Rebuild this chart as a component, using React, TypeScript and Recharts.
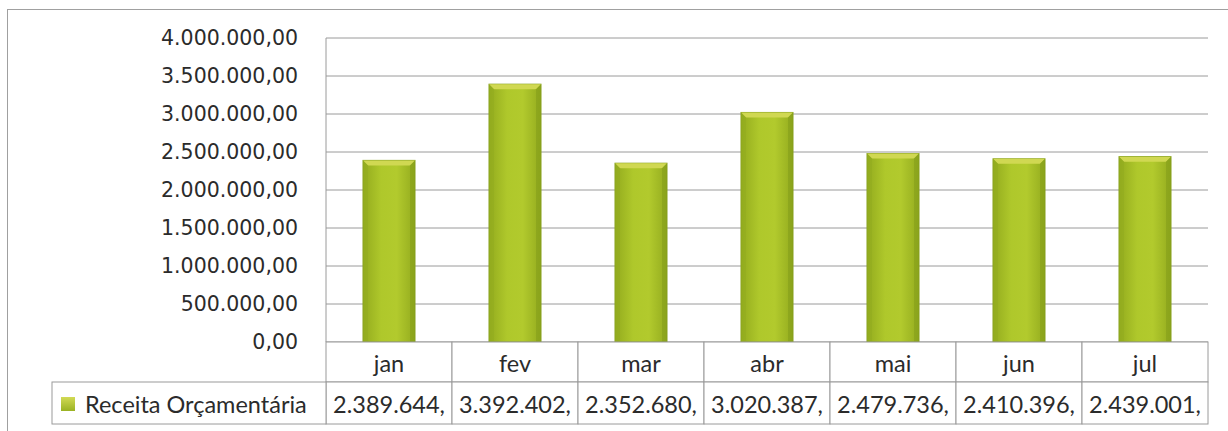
import React from "react";
import { BarChart, Bar, CartesianGrid, XAxis, YAxis } from "recharts";

const months = ["jan", "fev", "mar", "abr", "mai", "jun", "jul"];
const receita = [2389644, 3392402, 2352680, 3020387, 2479736, 2410396, 2439001];
const yTicks = [0, 500000, 1000000, 1500000, 2000000, 2500000, 3000000, 3500000, 4000000];
const seriesName = "Receita Orçamentária";

const rows = months.map((m, i) => ({ month: m, receita: receita[i] }));

const W = 1228;
const H = 431;
const PLOT_LEFT = 326;
const PLOT_RIGHT = 1208;
const PLOT_TOP = 38;
const PLOT_BOTTOM = 342;
const CELL_W = (PLOT_RIGHT - PLOT_LEFT) / months.length;
const ROW1 = 40;
const ROW2 = 42;
const LEGEND_LEFT = 52;
const LINE = "#9a9a9a";
const TEXT = "#2b2b2b";
const TABLE_FONT = "Lato, 'Open Sans', sans-serif";
const TABLE_SIZE = 23.5;

function thousands(n: number) {
  return String(Math.trunc(n)).replace(/\B(?=(\d{3})+(?!\d))/g, ".");
}
const fmtAxis = (v: number) => thousands(v) + ",00";
const fmtCell = (v: number) => thousands(v) + ",";

function TableTick(props: any) {
  const { x, y, payload } = props;
  const i = payload.index;
  const left = x - CELL_W / 2;
  return (
    <g>
      <rect x={left} y={y} width={CELL_W} height={ROW1} fill="#fff" stroke={LINE} />
      <text x={x} y={y + 30} textAnchor="middle" fontFamily={TABLE_FONT} fontSize={TABLE_SIZE} fill={TEXT}>
        {payload.value}
      </text>
      <rect x={left} y={y + ROW1} width={CELL_W} height={ROW2} fill="#fff" stroke={LINE} />
      <text x={x} y={y + ROW1 + 31} textAnchor="middle" fontFamily={TABLE_FONT} fontSize={TABLE_SIZE} fill={TEXT}>
        {fmtCell(receita[i])}
      </text>
      {i === 0 && (
        <g>
          <rect x={LEGEND_LEFT} y={y + ROW1} width={left - LEGEND_LEFT} height={ROW2} fill="#fff" stroke={LINE} />
          <rect x={LEGEND_LEFT + 9} y={y + ROW1 + 15} width={14} height={14} fill="url(#legendFill)" />
          <text x={LEGEND_LEFT + 33} y={y + ROW1 + 31} fontFamily={TABLE_FONT} fontSize={TABLE_SIZE} fill={TEXT}>
            {seriesName}
          </text>
        </g>
      )}
    </g>
  );
}

function BevelBar(props: any) {
  const { x, y, width, height } = props;
  if (!height || height <= 0) return null;
  const b = 5;
  return (
    <g>
      <rect x={x} y={y} width={width} height={height} fill="url(#barFill)" stroke="#86a01c" strokeWidth={1} />
      <polygon
        points={`${x},${y} ${x + width},${y} ${x + width - b},${y + b} ${x + b},${y + b}`}
        fill="#d0d852"
      />
      <polygon points={`${x},${y} ${x + b},${y + b} ${x + b},${y + height} ${x},${y + height}`} fill="#93ac1f" opacity={0.6} />
      <polygon
        points={`${x + width},${y} ${x + width - b},${y + b} ${x + width - b},${y + height} ${x + width},${y + height}`}
        fill="#869e1b"
        opacity={0.6}
      />
    </g>
  );
}

export default function App() {
  return (
    <div style={{ position: "relative", width: W, height: H, background: "#fff" }}>
      <style>{"body{margin:0}"}</style>
      <div
        style={{
          position: "absolute",
          left: 7,
          top: 9,
          width: W,
          height: H,
          borderLeft: "1px solid #a0a0a0",
          borderTop: "1px solid #a0a0a0",
        }}
      />
      <div style={{ position: "absolute", left: 0, top: 0 }}>
        <BarChart
          width={W}
          height={H}
          data={rows}
          margin={{ top: PLOT_TOP, right: W - PLOT_RIGHT, bottom: 0, left: 0 }}
          barSize={52}
        >
          <defs>
            <linearGradient id="barFill" x1="0" y1="0" x2="1" y2="0">
              <stop offset="0%" stopColor="#93ab1e" />
              <stop offset="35%" stopColor="#afc82b" />
              <stop offset="65%" stopColor="#b2ca2d" />
              <stop offset="100%" stopColor="#93ab1e" />
            </linearGradient>
            <linearGradient id="legendFill" x1="0" y1="0" x2="0" y2="1">
              <stop offset="0%" stopColor="#d2da55" />
              <stop offset="100%" stopColor="#9ab223" />
            </linearGradient>
          </defs>
          <CartesianGrid vertical={false} stroke={LINE} />
          <YAxis
            width={PLOT_LEFT}
            domain={[0, 4000000]}
            ticks={yTicks}
            interval={0}
            tickFormatter={fmtAxis}
            tickLine={false}
            tickSize={0}
            tickMargin={28}
            axisLine={{ stroke: LINE }}
            tick={{ fontFamily: "'DejaVu Sans', Verdana, sans-serif", fontSize: 20.5, fill: TEXT }}
          />
          <XAxis
            dataKey="month"
            tickLine={false}
            tickSize={0}
            tickMargin={0}
            axisLine={false}
            interval={0}
            height={H - PLOT_BOTTOM}
            tick={<TableTick />}
          />
          <Bar dataKey="receita" name={seriesName} shape={<BevelBar />} isAnimationActive={false} />
        </BarChart>
      </div>
    </div>
  );
}
